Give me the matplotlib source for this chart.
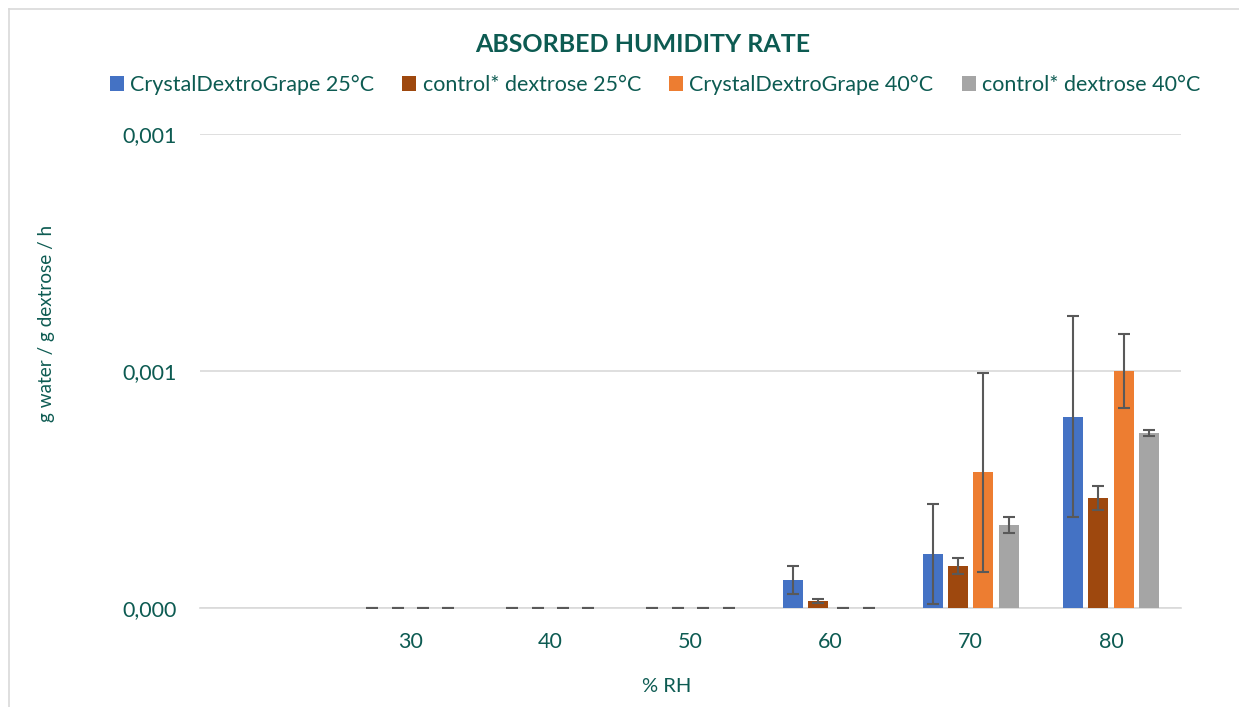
import numpy as np
import matplotlib
matplotlib.use("Agg")
import matplotlib.pyplot as plt
from matplotlib.lines import Line2D

nan = np.nan
categories = ["", "30", "40", "50", "60", "70", "80"]
series_names = ["CrystalDextroGrape 25°C", "control* dextrose 25°C",
                "CrystalDextroGrape 40°C", "control* dextrose 40°C"]
cdg_25 = [nan, 0.0, 0.0, 0.0, 0.0000585, 0.0001135, 0.000403]
ctrl_25 = [nan, 0.0, 0.0, 0.0, 0.0000150, 0.0000886, 0.000232]
cdg_40 = [nan, 0.0, 0.0, 0.0, 0.0, 0.000286, 0.0005]
ctrl_40 = [nan, 0.0, 0.0, 0.0, 0.0, 0.000176, 0.000369]
err_cdg_25 = [nan, 0.0, 0.0, 0.0, 0.0000295, 0.000105, 0.000212]
err_ctrl_25 = [nan, 0.0, 0.0, 0.0, 0.000005, 0.000017, 0.0000255]
err_cdg_40 = [nan, 0.0, 0.0, 0.0, 0.0, 0.000209, 0.000079]
err_ctrl_40 = [nan, 0.0, 0.0, 0.0, 0.0, 0.000017, 0.000006]
y_ticks = [0.0, 0.0005, 0.001]
y_tick_labels = ["0,000", "0,001", "0,001"]

values = [cdg_25, ctrl_25, cdg_40, ctrl_40]
errors = [err_cdg_25, err_ctrl_25, err_cdg_40, err_ctrl_40]
colors = ["#4472C4", "#9E480E", "#ED7D31", "#A5A5A5"]

TXT = "#0D5B52"
plt.rcParams['font.family'] = ['Lato', 'DejaVu Sans']

W, H = 1239, 707
fig = plt.figure(figsize=(W / 100, H / 100), dpi=100)
fig.add_artist(Line2D([8.5 / W, 8.5 / W], [-0.1, 1 - 8.5 / H], transform=fig.transFigure,
                      color="#D9D9D9", linewidth=1.2))
fig.add_artist(Line2D([8.5 / W, 1.1], [1 - 8.5 / H, 1 - 8.5 / H], transform=fig.transFigure,
                      color="#D9D9D9", linewidth=1.2))

ax = fig.add_axes([200 / W, 1 - 608 / H, 981 / W, (608 - 134) / H])
x = np.arange(len(categories))
pitch = 0.181
width = 0.143
for i, (vals, errs, col, name) in enumerate(zip(values, errors, colors, series_names)):
    off = (i - 1.5) * pitch
    ax.bar(x + off, vals, width=width, color=col, label=name, zorder=3)
    ax.errorbar(x + off, vals, yerr=errs, fmt="none", ecolor="#595959",
                elinewidth=1.5, capsize=4.3, capthick=1.5, zorder=4)

ax.set_xlim(-0.5, len(categories) - 0.5)
ax.set_ylim(0, 0.001)
ax.set_yticks(y_ticks)
ax.set_yticklabels(y_tick_labels)
ax.set_xticks(x)
ax.set_xticklabels(categories)
for s in ["top", "right", "left"]:
    ax.spines[s].set_visible(False)
ax.spines["bottom"].set_color("#D9D9D9")
ax.spines["bottom"].set_linewidth(1.2)
ax.grid(axis="y", color="#D9D9D9", linewidth=1.2, zorder=0)
ax.set_axisbelow(True)
ax.tick_params(axis="both", length=0, labelsize=15.5, colors=TXT)
ax.tick_params(axis="y", pad=17)
ax.tick_params(axis="x", pad=17)

fig.text(667 / W, 1 - 687 / H, "% RH", ha="center", va="center", fontsize=14.5, color=TXT)
fig.text(47 / W, 1 - 323 / H, "g water / g dextrose / h", ha="center", va="center",
         rotation=90, fontsize=13.6, color=TXT)
fig.text(643 / W, 1 - 45 / H, "ABSORBED HUMIDITY RATE", ha="center", va="center",
         fontsize=18, fontweight="bold", color=TXT)

leg = fig.legend(loc="center", bbox_to_anchor=(655 / W, 1 - 85 / H), ncol=4, frameon=False,
                 fontsize=15.5, handlelength=0.65, handleheight=0.65, handletextpad=0.3,
                 columnspacing=1.3, labelcolor=TXT)

fig.savefig("out.png", dpi=100)
